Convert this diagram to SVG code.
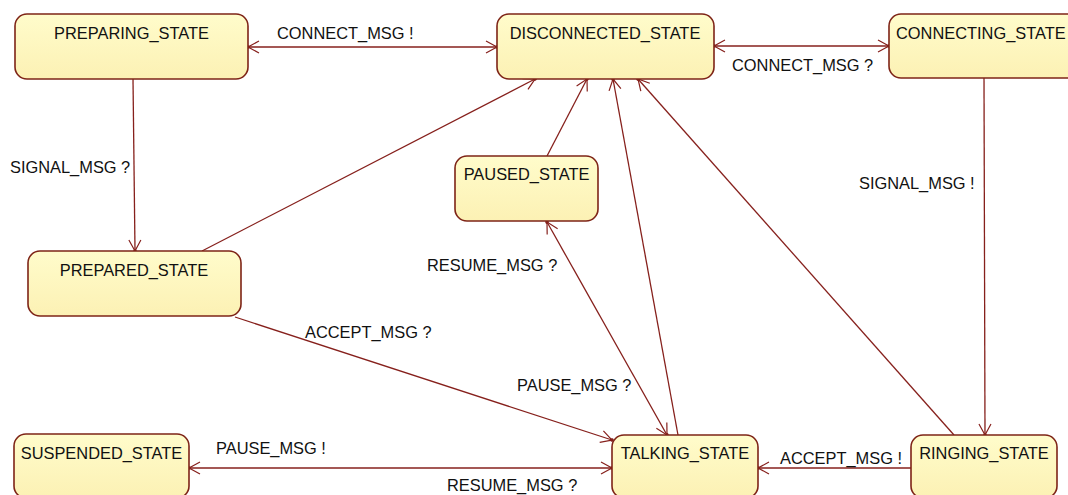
<svg xmlns="http://www.w3.org/2000/svg" width="1068" height="495" viewBox="0 0 1068 495">
<style>
.box{fill:url(#g);stroke:#7e2417;stroke-width:1.6}
.t{font-family:"Liberation Sans",Arial,sans-serif;font-size:16.4px;fill:#111}
.c{text-anchor:middle}
.e{fill:none;stroke:#86201c;stroke-width:1.3}
.one{marker-end:url(#a)}
.two{marker-end:url(#a);marker-start:url(#a)}
</style>
<defs>
<linearGradient id="g" x1="0" y1="0" x2="0" y2="1">
<stop offset="0" stop-color="#FFFCCB"/>
<stop offset="1" stop-color="#FCF1B4"/>
</linearGradient>
<marker id="a" markerUnits="userSpaceOnUse" markerWidth="16" markerHeight="16" viewBox="-13 -8 16 16" refX="0" refY="0" orient="auto-start-reverse" overflow="visible">
<path d="M-11,-6 L0,0 L-11,6" fill="none" stroke="#86201c" stroke-width="1.2"/>
<circle cx="0" cy="0" r="1.8" fill="#86201c"/>
</marker>
</defs>
<rect width="1068" height="495" fill="#fff"/>
<g id="connectors">
<line class="e two" x1="248" y1="47" x2="497" y2="47"/>
<line class="e two" x1="714" y1="46" x2="889" y2="46"/>
<line class="e one" x1="133" y1="79" x2="135" y2="251"/>
<line class="e one" x1="984" y1="78" x2="985" y2="435"/>
<line class="e one" x1="202" y1="251" x2="535" y2="79"/>
<line class="e one" x1="547" y1="156" x2="587" y2="79"/>
<line class="e one" x1="678" y1="435" x2="613" y2="79"/>
<line class="e one" x1="954" y1="435" x2="638" y2="79"/>
<line class="e two" x1="547" y1="222" x2="667" y2="435"/>
<line class="e one" x1="235" y1="317" x2="612" y2="440"/>
<line class="e two" x1="189" y1="468" x2="612" y2="468"/>
<line class="e one" x1="911" y1="468" x2="758" y2="468"/>
<text class="t" x="277" y="39">CONNECT_MSG !</text>
<text class="t" x="732" y="71">CONNECT_MSG ?</text>
<text class="t" x="10" y="173">SIGNAL_MSG ?</text>
<text class="t" x="859" y="189">SIGNAL_MSG !</text>
<text class="t" x="427" y="271">RESUME_MSG ?</text>
<text class="t" x="517" y="391">PAUSE_MSG ?</text>
<text class="t" x="305" y="338">ACCEPT_MSG ?</text>
<text class="t" x="216" y="454">PAUSE_MSG !</text>
<text class="t" x="447" y="491">RESUME_MSG ?</text>
<text class="t" x="780" y="464">ACCEPT_MSG !</text>
</g>
<g id="preparing"><rect class="box" x="15" y="14" width="233" height="65" rx="12"/><text class="t c" x="131.5" y="38.5">PREPARING_STATE</text></g>
<g id="disconnected"><rect class="box" x="497" y="14" width="217" height="65" rx="12"/><text class="t c" x="605" y="38.5">DISCONNECTED_STATE</text></g>
<g id="connecting"><rect class="box" x="889" y="14" width="192" height="64" rx="12"/><text class="t" x="896" y="38.5">CONNECTING_STATE</text></g>
<g id="paused"><rect class="box" x="455" y="156" width="143" height="65" rx="12"/><text class="t c" x="526.5" y="180">PAUSED_STATE</text></g>
<g id="prepared"><rect class="box" x="28" y="251" width="213" height="65" rx="12"/><text class="t c" x="134" y="276">PREPARED_STATE</text></g>
<g id="suspended"><rect class="box" x="14" y="434" width="175" height="64" rx="12"/><text class="t c" x="101.5" y="459">SUSPENDED_STATE</text></g>
<g id="talking"><rect class="box" x="612" y="435" width="146" height="63" rx="12"/><text class="t c" x="685" y="459">TALKING_STATE</text></g>
<g id="ringing"><rect class="box" x="911" y="435" width="146" height="63" rx="12"/><text class="t c" x="984" y="459">RINGING_STATE</text></g>
</svg>
